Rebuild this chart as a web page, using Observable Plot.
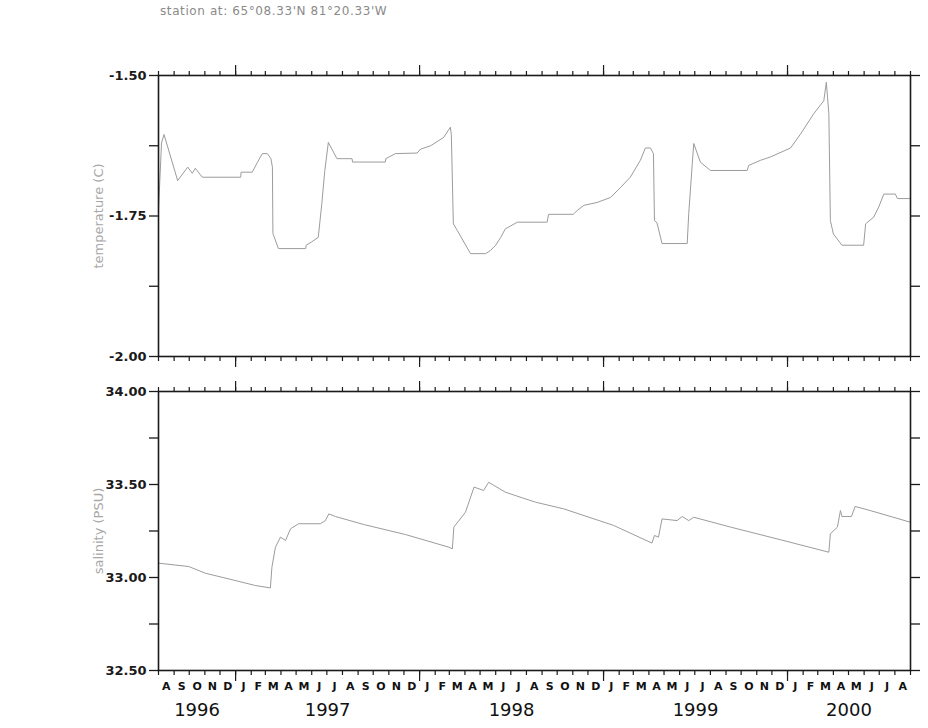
<!DOCTYPE html>
<html>
<head>
<meta charset="utf-8">
<script src="https://cdn.jsdelivr.net/npm/d3@7"></script>
<script src="https://cdn.jsdelivr.net/npm/@observablehq/plot@0.6"></script>
<style>
  html, body { margin: 0; padding: 0; background: #fff; }
  #wrap { position: relative; width: 928px; height: 728px; overflow: hidden; background: #fff; }
  #title { position: absolute; left: 160px; top: 4px; font-family: "DejaVu Sans", sans-serif; font-size: 12px; letter-spacing: 0.6px; color: #8a8a8a; white-space: nowrap; }
  .panel { position: absolute; left: 0; }
</style>
</head>
<body>
<div id="wrap">
  <div id="title">station at: 65°08.33'N 81°20.33'W</div>
  <div id="top" class="panel" style="top:0px"></div>
  <div id="bot" class="panel" style="top:380px"></div>
</div>
<script>
// ---------- data ----------
const tempDates = [
  "1996-08-01","1996-08-07","1996-08-12","1996-09-08","1996-09-28","1996-10-07","1996-10-13","1996-10-27",
  "1997-01-11","1997-01-12","1997-02-03","1997-02-13","1997-02-23","1997-03-05","1997-03-12","1997-03-15",
  "1997-03-16","1997-03-27","1997-05-20","1997-05-21","1997-06-01","1997-06-14","1997-06-21","1997-06-27",
  "1997-07-04","1997-07-21","1997-08-20","1997-08-21","1997-10-25","1997-10-26","1997-11-14","1997-12-27",
  "1998-01-03","1998-01-23","1998-02-18","1998-03-03","1998-03-05","1998-03-09","1998-03-17","1998-04-12",
  "1998-05-12","1998-05-22","1998-06-01","1998-06-11","1998-06-20","1998-07-14","1998-09-11","1998-09-14",
  "1998-11-02","1998-11-10","1998-11-23","1998-12-19","1999-01-15","1999-02-04","1999-02-23","1999-03-15",
  "1999-03-25","1999-04-04","1999-04-10","1999-04-12","1999-04-17","1999-04-27","1999-06-16","1999-06-19",
  "1999-06-26","1999-06-29","1999-07-12","1999-08-01","1999-10-13","1999-10-16","1999-11-08","1999-11-28",
  "2000-01-07","2000-01-27","2000-02-22","2000-03-13","2000-03-18","2000-03-23","2000-03-26","2000-04-01",
  "2000-04-18","2000-05-31","2000-06-04","2000-06-20","2000-06-30","2000-07-10","2000-08-02","2000-08-06",
  "2000-09-01"
];
const tempValues = [
  -1.740,-1.620,-1.605,-1.687,-1.663,-1.674,-1.665,-1.681,
  -1.681,-1.672,-1.672,-1.655,-1.639,-1.639,-1.648,-1.663,
  -1.781,-1.808,-1.808,-1.802,-1.796,-1.788,-1.728,-1.669,
  -1.619,-1.648,-1.648,-1.654,-1.654,-1.648,-1.639,-1.638,
  -1.631,-1.625,-1.610,-1.592,-1.605,-1.764,-1.776,-1.817,
  -1.817,-1.811,-1.802,-1.788,-1.773,-1.761,-1.761,-1.747,
  -1.747,-1.740,-1.731,-1.726,-1.717,-1.699,-1.681,-1.651,
  -1.629,-1.629,-1.639,-1.758,-1.762,-1.799,-1.799,-1.746,
  -1.657,-1.621,-1.654,-1.669,-1.669,-1.660,-1.651,-1.645,
  -1.629,-1.604,-1.568,-1.545,-1.512,-1.568,-1.758,-1.782,
  -1.802,-1.802,-1.764,-1.752,-1.734,-1.711,-1.711,-1.719,
  -1.719
];
const salDates = [
  "1996-08-01","1996-09-30","1996-11-02","1996-12-25","1997-02-09","1997-03-11","1997-03-14","1997-03-21",
  "1997-03-31","1997-04-10","1997-04-20","1997-05-06","1997-06-18","1997-06-28","1997-07-05","1997-07-18",
  "1997-09-12","1997-12-04","1998-02-28","1998-03-07","1998-03-10","1998-04-02","1998-04-19","1998-05-08",
  "1998-05-18","1998-06-20","1998-07-24","1998-08-19","1998-10-14","1999-01-21","1999-04-07","1999-04-12",
  "1999-04-20","1999-04-27","1999-05-27","1999-06-06","1999-06-19","1999-06-29","1999-09-10","1999-12-18",
  "2000-03-23","2000-03-26","2000-04-09","2000-04-15","2000-04-18","2000-05-07","2000-05-14","2000-06-13",
  "2000-09-01"
];
const salValues = [
  33.077,33.059,33.023,32.988,32.957,32.944,33.055,33.163,
  33.217,33.199,33.262,33.289,33.289,33.306,33.342,33.328,
  33.285,33.231,33.163,33.154,33.271,33.351,33.486,33.468,
  33.512,33.459,33.428,33.405,33.369,33.280,33.185,33.226,
  33.217,33.315,33.306,33.328,33.306,33.324,33.271,33.203,
  33.136,33.235,33.271,33.360,33.328,33.328,33.382,33.360,
  33.297
];
const xStart = "1996-08-01";
const xEnd = "2000-09-01";
const monthLetters = ["J","F","M","A","M","J","J","A","S","O","N","D"];
const yearLabels = ["1996","1997","1998","1999","2000"];
const tempTicks = [-2.0,-1.875,-1.75,-1.625,-1.5];
const tempLabelTicks = [-2.0,-1.75,-1.5];
const salTicks = [32.5,32.75,33.0,33.25,33.5,33.75,34.0];
const salLabelTicks = [32.5,33.0,33.5,34.0];
const tempTitle = "temperature (C)";
const salTitle = "salinity (PSU)";

// ---------- derived ----------
const t0 = new Date(xStart), t1 = new Date(xEnd);
const temp = tempDates.map((d, i) => ({date: new Date(d), value: tempValues[i]}));
const sal = salDates.map((d, i) => ({date: new Date(d), value: salValues[i]}));
const monthTicks = d3.utcMonth.range(t0, d3.utcDay.offset(t1, 1));
const yearTicks = d3.utcYear.range(t0, t1);
const monthMids = d3.utcMonth.range(t0, t1).map(m => ({
  date: new Date((+m + +d3.utcMonth.offset(m, 1)) / 2),
  text: monthLetters[m.getUTCMonth()]
}));
const yearMids = yearLabels.map(y => {
  const a = Math.max(+new Date(y + "-01-01"), +t0);
  const b = Math.min(+new Date((+y + 1) + "-01-01"), +t1);
  return {date: new Date((a + b) / 2), text: y};
});

const W = 928, ML = 158, MR = 18;
const lineStroke = "#9c9c9c";
const axisColor = "#1a1a1a";
const fmt = labeled => d => labeled.includes(d) ? d.toFixed(2) : "";

function xAxes(anchor) {
  return [
    Plot.axisX({anchor, ticks: monthTicks, tickSize: 5, tickFormat: () => "", label: null, strokeWidth: 1.2}),
    Plot.axisX({anchor, ticks: yearTicks, tickSize: 11, tickFormat: () => "", label: null, strokeWidth: 1.2})
  ];
}
function yAxes(ticks, labeled) {
  return [
    Plot.axisY({anchor: "left", ticks, tickSize: 9, tickPadding: 3, tickFormat: fmt(labeled), label: null,
      fontSize: 13, fontWeight: "bold", fontFamily: "DejaVu Sans", strokeWidth: 1.3}),
    Plot.axisY({anchor: "right", ticks, tickSize: 9, tickFormat: () => "", label: null, strokeWidth: 1.3})
  ];
}
const svgStyle = {fontFamily: "DejaVu Sans", fontSize: "12px", color: axisColor, background: "transparent", overflow: "visible"};
const titleOpts = {frameAnchor: "left", dx: -60, rotate: -90, textAnchor: "middle", fill: "#a8a8a8",
  fontSize: 13, fontFamily: "DejaVu Sans", letterSpacing: 1.2};

const topPlot = Plot.plot({
  width: W, height: 380,
  marginLeft: ML, marginRight: MR, marginTop: 75, marginBottom: 24,
  style: svgStyle,
  x: {type: "utc", domain: [t0, t1], axis: null},
  y: {domain: [-2.0, -1.5], axis: null},
  marks: [
    Plot.line(temp, {x: "date", y: "value", stroke: lineStroke, strokeWidth: 1}),
    ...xAxes("top"), ...xAxes("bottom"),
    ...yAxes(tempTicks, tempLabelTicks),
    Plot.frame({stroke: axisColor, strokeWidth: 1.6}),
    Plot.text([tempTitle], titleOpts)
  ]
});
document.getElementById("top").append(topPlot);

const botPlot = Plot.plot({
  width: W, height: 348,
  marginLeft: ML, marginRight: MR, marginTop: 11, marginBottom: 58,
  style: svgStyle,
  x: {type: "utc", domain: [t0, t1], axis: null},
  y: {domain: [32.5, 34.0], axis: null},
  marks: [
    Plot.line(sal, {x: "date", y: "value", stroke: lineStroke, strokeWidth: 1}),
    ...xAxes("top"), ...xAxes("bottom"),
    ...yAxes(salTicks, salLabelTicks),
    Plot.frame({stroke: axisColor, strokeWidth: 1.6}),
    Plot.text(monthMids, {x: "date", text: "text", frameAnchor: "bottom", dy: 19,
      fontSize: 11, fontWeight: "bold", fontFamily: "DejaVu Sans", fill: "#111"}),
    Plot.text(yearMids, {x: "date", text: "text", frameAnchor: "bottom", dy: 45,
      fontSize: 18, fontFamily: "DejaVu Sans", fill: "#111"}),
    Plot.text([salTitle], titleOpts)
  ]
});
document.getElementById("bot").append(botPlot);
</script>
</body>
</html>
